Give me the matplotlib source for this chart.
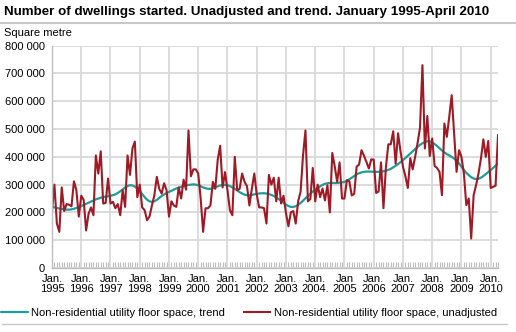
import matplotlib
matplotlib.use("Agg")
import matplotlib.pyplot as plt
from matplotlib.lines import Line2D
from matplotlib.ticker import FuncFormatter
import numpy as np

# monthly values, January 1995 - April 2010 (square metre)
unadjusted = [
    205000, 300000, 160000, 130000, 290000, 205000, 230000, 228000, 222000, 312000, 280000, 185000,  # 1995
    260000, 245000, 135000, 195000, 218000, 190000, 405000, 340000, 420000, 232000, 234000, 322000,  # 1996
    232000, 238000, 215000, 230000, 190000, 280000, 220000, 405000, 335000, 430000, 455000, 255000,  # 1997
    300000, 218000, 208000, 172000, 185000, 225000, 262000, 328000, 285000, 268000, 305000, 280000,  # 1998
    185000, 240000, 225000, 220000, 290000, 250000, 318000, 282000, 495000, 330000, 355000, 355000,  # 1999
    340000, 250000, 130000, 215000, 215000, 225000, 310000, 285000, 390000, 440000, 290000, 345000,  # 2000
    280000, 208000, 190000, 400000, 280000, 285000, 340000, 310000, 295000, 225000, 285000, 340000,  # 2001
    265000, 218000, 218000, 215000, 160000, 335000, 300000, 325000, 240000, 325000, 232000, 260000,  # 2002
    198000, 150000, 200000, 205000, 160000, 240000, 275000, 405000, 495000, 240000, 248000, 360000,  # 2003
    240000, 300000, 255000, 286000, 243000, 298000, 200000, 414000, 366000, 310000, 380000, 250000,  # 2004
    250000, 316000, 312000, 261000, 267000, 365000, 372000, 424000, 404000, 382000, 358000, 391000,  # 2005
    390000, 270000, 275000, 380000, 215000, 362000, 445000, 445000, 492000, 375000, 485000, 420000,  # 2006
    365000, 330000, 288000, 395000, 355000, 400000, 450000, 505000, 730000, 430000, 547000, 403000,  # 2007
    466000, 367000, 360000, 346000, 262000, 520000, 472000, 544000, 622000, 484000, 346000, 424000,  # 2008
    400000, 340000, 226000, 250000, 106000, 262000, 298000, 340000, 394000, 463000, 400000, 457000,  # 2009
    288000, 292000, 296000, 478000,                                                                  # 2010
]

trend = [
    220000, 218000, 216000, 214000, 212000, 211000, 210000, 210000, 211000, 213000, 216000, 219000,  # 1995
    223000, 227000, 231000, 235000, 239000, 243000, 247000, 250000, 253000, 255000, 257000, 258000,  # 1996
    260000, 262000, 265000, 270000, 276000, 283000, 290000, 295000, 298000, 297000, 293000, 286000,  # 1997
    277000, 266000, 255000, 246000, 240000, 238000, 240000, 245000, 252000, 259000, 265000, 270000,  # 1998
    274000, 278000, 282000, 286000, 289000, 292000, 295000, 297000, 299000, 300000, 301000, 300000,  # 1999
    298000, 294000, 290000, 287000, 285000, 285000, 287000, 290000, 294000, 297000, 299000, 299000,  # 2000
    298000, 295000, 290000, 285000, 279000, 273000, 268000, 264000, 262000, 262000, 263000, 265000,  # 2001
    267000, 268000, 269000, 269000, 268000, 266000, 263000, 259000, 254000, 248000, 242000, 235000,  # 2002
    228000, 223000, 220000, 220000, 222000, 227000, 234000, 242000, 251000, 259000, 267000, 275000,  # 2003
    282000, 288000, 294000, 299000, 303000, 305000, 306000, 306000, 306000, 306000, 307000, 308000,  # 2004
    310000, 314000, 319000, 325000, 331000, 337000, 341000, 344000, 346000, 347000, 347000, 347000,  # 2005
    346000, 346000, 346000, 347000, 348000, 350000, 353000, 357000, 362000, 368000, 374000, 381000,  # 2006
    388000, 396000, 404000, 412000, 420000, 428000, 436000, 443000, 449000, 453000, 456000, 456000,  # 2007
    452000, 446000, 439000, 431000, 423000, 416000, 410000, 405000, 400000, 394000, 386000, 376000,  # 2008
    365000, 353000, 342000, 334000, 327000, 322000, 320000, 321000, 325000, 331000, 338000, 345000,  # 2009
    352000, 360000, 368000, 376000,                                                                  # 2010
]

tick_labels = ["Jan.\n1995", "Jan.\n1996", "Jan.\n1997", "Jan.\n1998", "Jan.\n1999",
               "Jan.\n2000", "Jan.\n2001", "Jan.\n2002", "Jan.\n2003", "Jan.\n2004.",
               "Jan\n2005", "Jan.\n2006", "Jan.\n2007", "Jan.\n2008", "Jan.\n2009",
               "Jan.\n2010"]

title = "Number of dwellings started. Unadjusted and trend. January 1995-April 2010"
trend_label = "Non-residential utility floor space, trend"
unadj_label = "Non-residential utility floor space, unadjusted"

RED = "#9e1b26"
TEAL = "#1f9c99"
GRID = "#d9d9d9"
AXIS = "#bdbdbd"

plt.rcParams['font.family'] = ['Liberation Sans', 'DejaVu Sans']

W, H = 516, 332
fig = plt.figure(figsize=(W / 100, H / 100), dpi=100)
ax = fig.add_axes([52 / W, 1 - 268 / H, 446 / W, (268 - 45.7) / H])

x = np.arange(len(unadjusted))
l_trend, = ax.plot(x, trend, color=TEAL, lw=1.6, solid_capstyle="round")
l_unadj, = ax.plot(x, unadjusted, color=RED, lw=1.5, solid_joinstyle="round")

ax.set_xlim(0, len(unadjusted) - 1)
ax.set_ylim(0, 800000)
ax.set_yticks(np.arange(0, 800001, 100000))
ax.yaxis.set_major_formatter(FuncFormatter(lambda v, p: f"{int(v):,}".replace(",", " ")))
ax.set_xticks(np.arange(0, len(tick_labels) * 12, 12))
ax.set_xticklabels(tick_labels, fontsize=8, linespacing=1.0)
ax.set_xticks(x, minor=True)

ax.set_axisbelow(True)
ax.grid(True, which="major", color=GRID, lw=1.3)
ax.tick_params(axis="x", which="major", length=0, pad=4)
ax.tick_params(axis="x", which="minor", length=4, direction="in", color=AXIS, width=0.8)
ax.tick_params(axis="y", length=0, pad=5, labelsize=8)
for side in ("top", "right"):
    ax.spines[side].set_visible(False)
for side in ("left", "bottom"):
    ax.spines[side].set_color(AXIS)
    ax.spines[side].set_linewidth(1.0)

fig.text(4 / W, 1 - 12 / H, title, fontsize=9.6, fontweight="bold", va="center", ha="left")
fig.text(4 / W, 1 - 32.5 / H, "Square metre", fontsize=8, va="center", ha="left")

# separators under the title and under the legend
fig.add_artist(Line2D([0, 1], [1 - 23 / H] * 2, color="#c8c8c8", lw=1.5))
fig.add_artist(Line2D([2 / W, 507 / W], [1 - 324 / H] * 2, color="#c8c8c8", lw=1.0))

fig.legend([l_trend, l_unadj], [trend_label, unadj_label], loc="center left",
           bbox_to_anchor=(0.002, 1 - 313 / H), ncol=2, frameon=False, fontsize=8,
           handlelength=2.4, handletextpad=0.3, columnspacing=1.7,
           borderpad=0, borderaxespad=0)

fig.savefig("out.png", dpi=100)
